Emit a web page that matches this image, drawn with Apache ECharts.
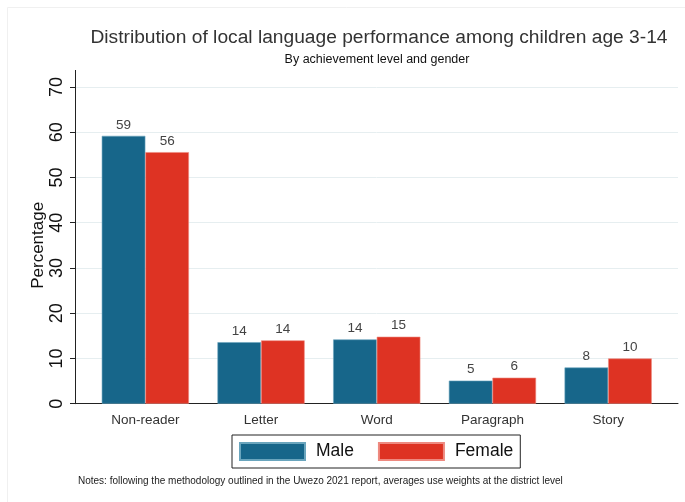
<!DOCTYPE html>
<html>
<head>
<meta charset="utf-8">
<script src="https://cdn.jsdelivr.net/npm/echarts@6/dist/echarts.min.js"></script>
<style>html,body{margin:0;padding:0;background:#fff;}#c{width:685px;height:502px;}</style>
</head>
<body>
<div id="c"></div>
<script>
var categories = ['Non-reader', 'Letter', 'Word', 'Paragraph', 'Story'];
var maleValues = [59.2, 13.6, 14.2, 5.1, 8.0];
var femaleValues = [55.6, 14.0, 14.8, 5.75, 10.0];
var yTicks = [0, 10, 20, 30, 40, 50, 60, 70];

var FONT = "'Liberation Sans', Arial, Helvetica, sans-serif";
var chart = echarts.init(document.getElementById('c'), null, {renderer: 'canvas'});
var lbl = {show: true, position: 'top', distance: 4, color: '#444', fontSize: 13.5, fontFamily: FONT,
  formatter: function (p) { return Math.round(p.value); }};
chart.setOption({
  animation: false,
  backgroundColor: '#fff',
  textStyle: {fontFamily: FONT},
  grid: [
    {left: 87.5, right: 19, top: 87, bottom: 98.3},
    {left: 75, right: 7, top: 87, bottom: 98.3}
  ],
  xAxis: [
    {type: 'category', gridIndex: 0, data: categories,
      axisLine: {show: false}, axisTick: {show: false},
      axisLabel: {color: '#333', fontSize: 13.5, margin: 10, fontFamily: FONT}},
    {type: 'value', gridIndex: 1, min: 0, max: 1,
      axisLine: {show: true, lineStyle: {color: '#222', width: 1}},
      axisTick: {show: false}, axisLabel: {show: false}, splitLine: {show: false}}
  ],
  yAxis: [
    {type: 'value', gridIndex: 0, min: yTicks[0], max: yTicks[yTicks.length - 1], interval: 10, show: false,
      splitLine: {show: false}},
    {type: 'value', gridIndex: 1, min: yTicks[0], max: yTicks[yTicks.length - 1], interval: 10,
      name: 'Percentage', nameLocation: 'middle', nameGap: 28, nameMoveOverlap: false,
      nameTextStyle: {color: '#111', fontSize: 17, fontFamily: FONT},
      axisLine: {show: true, lineStyle: {color: '#222', width: 1}},
      axisTick: {show: true, length: 5, lineStyle: {color: '#222'}},
      axisLabel: {rotate: 90, color: '#111', fontSize: 18, margin: 9, fontFamily: FONT},
      splitLine: {show: true, lineStyle: {color: '#e6eef0', width: 1}}}
  ],
  legend: {
    data: ['Male', 'Female'], left: 232, top: 435, orient: 'horizontal',
    padding: [7, 7, 7, 7], itemWidth: 65, itemHeight: 17, itemGap: 24,
    borderColor: '#222', borderWidth: 1,
    textStyle: {color: '#111', fontSize: 17.5, fontFamily: FONT, padding: [0, 0, 0, 6]},
    icon: 'rect'
  },
  series: [
    {name: 'Male', type: 'bar', xAxisIndex: 0, yAxisIndex: 0, data: maleValues,
      barWidth: 43.6, barGap: '0%',
      itemStyle: {color: '#17668a', borderColor: '#6aa5bd', borderWidth: 0.6},
      label: lbl},
    {name: 'Female', type: 'bar', xAxisIndex: 0, yAxisIndex: 0, data: femaleValues,
      barWidth: 43.6, barGap: '0%',
      itemStyle: {color: '#de3323', borderColor: '#ee8a80', borderWidth: 0.6},
      label: lbl}
  ],
  graphic: [
    {type: 'rect', shape: {x: 7.5, y: 7.5, width: 690, height: 500}, silent: true,
      style: {fill: 'none', stroke: '#f0f0f0', lineWidth: 1}},
    {type: 'line', shape: {x1: 75.5, y1: 70, x2: 75.5, y2: 87}, silent: true,
      style: {stroke: '#222', lineWidth: 1}},
    {type: 'text', x: 379, y: 38, silent: true,
      style: {text: 'Distribution of local language performance among children age 3-14',
        fill: '#333', fontSize: 19.2, fontFamily: FONT, textAlign: 'center', textVerticalAlign: 'middle'}},
    {type: 'text', x: 377, y: 60, silent: true,
      style: {text: 'By achievement level and gender',
        fill: '#111', fontSize: 12.5, fontFamily: FONT, textAlign: 'center', textVerticalAlign: 'middle'}},
    {type: 'text', x: 78, y: 481, silent: true,
      style: {text: 'Notes: following the methodology outlined in the Uwezo 2021 report, averages use weights at the district level',
        fill: '#222', fontSize: 10, fontFamily: FONT, textAlign: 'left', textVerticalAlign: 'middle'}}
  ]
});
</script>
</body>
</html>
